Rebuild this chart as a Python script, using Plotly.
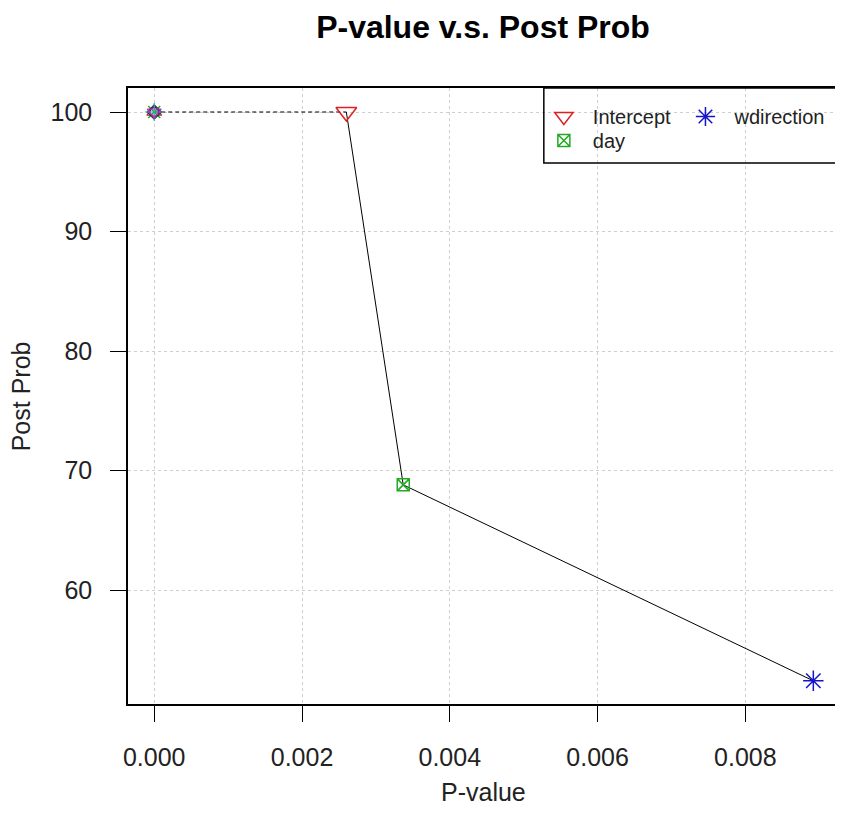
import plotly.graph_objects as go

# ---- data ----
names = ["Intercept", "day", "wdirection"]
pvalues = [0.00260, 0.00337, 0.00892]
postprob = [100.0, 68.8, 52.4]
symbols = ["triangle-down-open", "square-x-open", "asterisk-open"]
colors = ["#e02020", "#22aa22", "#1414c8"]
sizes = [18, 12, 17]

# variables clustered at p-value 0, post prob 100
cluster_p = [0.0, 0.0, 0.0, 0.0, 0.0, 0.0]
cluster_pp = [100.0, 100.0, 100.0, 100.0, 100.0, 100.0]
cluster_symbols = ["triangle-up-open", "circle-open", "x-thin-open", "diamond-open", "cross-thin-open", "triangle-down-open"]
cluster_colors = ["#d02020", "#2020c0", "#20a020", "#333333", "#20b0c0", "#c020c0"]
cluster_sizes = [13, 9, 12, 11, 13, 12]

x_ticks = [0.000, 0.002, 0.004, 0.006, 0.008]
x_ticklabels = ["0.000", "0.002", "0.004", "0.006", "0.008"]
y_ticks = [60, 70, 80, 90, 100]

FONT = "Liberation Sans, Arial, sans-serif"
OFF = 8  # browser body margin

fig = go.Figure()

# dashed link from cluster to first labelled point
fig.add_trace(go.Scatter(x=[cluster_p[0], pvalues[0]], y=[cluster_pp[0], postprob[0]],
                         mode="lines", line=dict(color="black", width=1.2, dash="4px,3px"),
                         showlegend=False, hoverinfo="skip"))
# solid line through labelled points
fig.add_trace(go.Scatter(x=pvalues, y=postprob, mode="lines",
                         line=dict(color="black", width=1),
                         showlegend=False, hoverinfo="skip"))

for px_, py_, s, c, sz in zip(cluster_p, cluster_pp, cluster_symbols, cluster_colors, cluster_sizes):
    fig.add_trace(go.Scatter(x=[px_], y=[py_], mode="markers",
                             marker=dict(symbol=s, color=c, size=sz, line=dict(color=c, width=1.2)),
                             showlegend=False))

legend_ids = ["legend", "legend2", "legend3"]
for n, x, y, s, c, sz, lg in zip(names, pvalues, postprob, symbols, colors, sizes, legend_ids):
    fig.add_trace(go.Scatter(x=[x], y=[y], mode="markers", name=n,
                             marker=dict(symbol=s, color=c, size=sz, line=dict(color=c, width=1.5)),
                             legend=lg))

W, H = 843 - OFF, 832 - OFF
L, T = 128 - OFF, 88 - OFF
R = W - (840 - OFF)
B = H - (704 - OFF)
pw, ph = W - L - R, H - T - B

def px2paper_x(p):
    return (p - OFF - L) / pw

def px2paper_y(p):
    return (H - B - (p - OFF)) / ph

axis_common = dict(showline=True, linecolor="black", linewidth=1.5, mirror=True,
                   ticks="outside", ticklen=16, tickwidth=1, tickcolor="black",
                   showgrid=True, gridcolor="#cfcfcf", griddash="dot", gridwidth=1,
                   zeroline=False, tickfont=dict(family=FONT, size=25, color="#222"))

leg_common = dict(xanchor="left", yanchor="top", bgcolor="rgba(0,0,0,0)", borderwidth=0,
                  itemwidth=48, font=dict(family=FONT, size=20, color="#222"))

fig.update_layout(
    width=W, height=H,
    margin=dict(l=L, r=R, t=T, b=B),
    plot_bgcolor="white", paper_bgcolor="white",
    title=dict(text="<b>P-value v.s. Post Prob</b>", x=px2paper_x(484), xref="paper",
               y=1 - (27 - OFF) / H, yanchor="middle", xanchor="center",
               font=dict(family=FONT, size=32, color="black")),
    xaxis=dict(range=[-0.000355, 0.009254], tickvals=x_ticks, ticktext=x_ticklabels,
               ticklabelstandoff=14, **axis_common),
    yaxis=dict(range=[50.46, 102.01], tickvals=y_ticks, ticklabelstandoff=13, **axis_common),
    legend=dict(x=px2paper_x(536), y=px2paper_y(97), **leg_common),
    legend2=dict(x=px2paper_x(536), y=px2paper_y(121), **leg_common),
    legend3=dict(x=px2paper_x(678), y=px2paper_y(97), **leg_common),
    shapes=[dict(type="rect", xref="paper", yref="paper",
                 x0=px2paper_x(545), x1=1.0, y0=px2paper_y(163), y1=1.0,
                 line=dict(color="black", width=1.5), fillcolor="rgba(0,0,0,0)")],
    annotations=[
        dict(text="P-value", xref="paper", yref="paper", x=px2paper_x(484), y=px2paper_y(792),
             xanchor="center", yanchor="middle", showarrow=False,
             font=dict(family=FONT, size=25, color="#222")),
        dict(text="Post Prob", xref="paper", yref="paper", x=px2paper_x(21), y=px2paper_y(396),
             xanchor="center", yanchor="middle", showarrow=False, textangle=-90,
             font=dict(family=FONT, size=25, color="#222")),
    ],
)

fig.write_html("out.html")
